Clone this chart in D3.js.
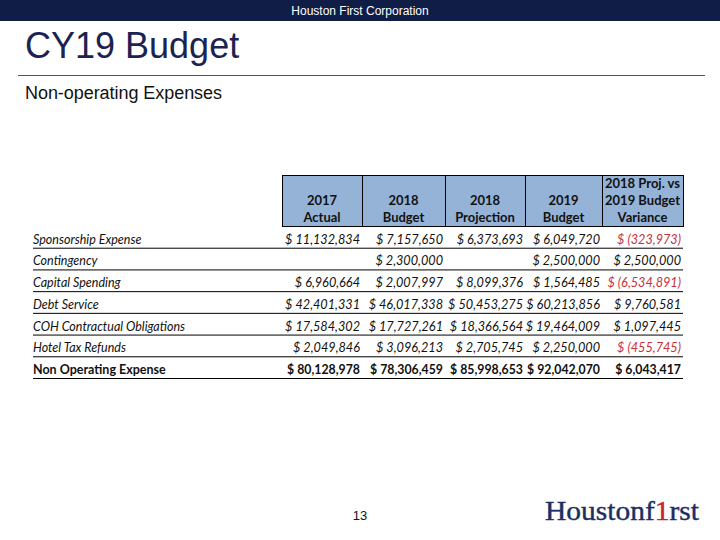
<!DOCTYPE html>
<html>
<head>
<meta charset="utf-8">
<script src="https://cdn.jsdelivr.net/npm/d3@7"></script>
<style>
  body { margin: 0; background: #fff; }
  svg { display: block; }
</style>
</head>
<body>
<div id="chart"></div>
<script>
var categories = ['Sponsorship Expense', 'Contingency', 'Capital Spending', 'Debt Service',
  'COH Contractual Obligations', 'Hotel Tax Refunds', 'Non Operating Expense'];
var columns = [['2017', 'Actual'], ['2018', 'Budget'], ['2018', 'Projection'], ['2019', 'Budget'],
  ['2018 Proj. vs', '2019 Budget', 'Variance']];
var actual2017 = [11132834, null, 6960664, 42401331, 17584302, 2049846, 80128978];
var budget2018 = [7157650, 2300000, 2007997, 46017338, 17727261, 3096213, 78306459];
var projection2018 = [6373693, null, 8099376, 50453275, 18366564, 2705745, 85998653];
var budget2019 = [6049720, 2500000, 1564485, 60213856, 19464009, 2250000, 92042070];
var variance = [-323973, 2500000, -6534891, 9760581, 1097445, -455745, 6043417];

var series = [actual2017, budget2018, projection2018, budget2019, variance];

var width = 720, height = 540;
var navy = '#101d47';

var svg = d3.select('#chart').append('svg')
  .attr('width', width)
  .attr('height', height);

// header bar
svg.append('rect')
  .attr('x', 0).attr('y', 0).attr('width', width).attr('height', 21)
  .attr('fill', navy);
svg.append('text')
  .attr('x', 360).attr('y', 15)
  .attr('text-anchor', 'middle')
  .attr('fill', '#fff')
  .style('font', '12px "Liberation Sans", Arial, sans-serif')
  .text('Houston First Corporation');

svg.append('text')
  .attr('x', 25).attr('y', 58)
  .attr('fill', '#1a2351')
  .style('font', '36px "Liberation Sans", Arial, sans-serif')
  .text('CY19 Budget');

svg.append('line')
  .attr('x1', 18).attr('x2', 705).attr('y1', 75.5).attr('y2', 75.5)
  .attr('stroke', '#555').attr('stroke-width', 1);

svg.append('text')
  .attr('x', 25).attr('y', 99)
  .attr('fill', '#111')
  .style('font', '18px "Liberation Sans", Arial, sans-serif')
  .attr('textLength', 197)
  .text('Non-operating Expenses');

// table
var colEdges = [282, 362, 445, 525, 602, 683];
function colLeft(i) { return colEdges[i]; }
function colRight(i) { return colEdges[i + 1]; }

var y = d3.scaleBand()
  .domain(categories)
  .range([226, 378]);

var headTop = 175;
var head = svg.append('g').attr('class', 'head');
head.selectAll('rect')
  .data(columns)
  .enter().append('rect')
    .attr('x', function(d, i) { return colLeft(i) + 0.5; })
    .attr('y', headTop + 0.5)
    .attr('width', function(d, i) { return colRight(i) - colLeft(i); })
    .attr('height', 226 - headTop)
    .attr('fill', '#95b3d7')
    .attr('stroke', '#000')
    .attr('stroke-width', 1);

head.selectAll('text')
  .data(columns)
  .enter().append('text')
    .attr('text-anchor', 'middle')
    .style('font', 'bold 13px Lato, "Open Sans", sans-serif')
    .attr('fill', '#111')
    .each(function(d, i) {
      var t = d3.select(this);
      var cx = (colLeft(i) + colRight(i)) / 2;
      d.forEach(function(line, j) {
        t.append('tspan')
          .attr('x', cx)
          .attr('y', 222 - (d.length - 1 - j) * 17)
          .text(line);
      });
    });

var fmt = d3.format(',');
function money(v) {
  if (v == null) return '';
  return v < 0 ? '$ (' + fmt(-v) + ')' : '$ ' + fmt(v);
}

var rows = svg.append('g').attr('class', 'rows')
  .selectAll('g')
  .data(categories)
  .enter().append('g')
    .attr('transform', function(d) { return 'translate(0,' + (y(d) + y.bandwidth()) + ')'; });

rows.append('line')
  .attr('x1', 33).attr('x2', 683)
  .attr('y1', 0.5).attr('y2', 0.5)
  .attr('stroke', '#000');

rows.append('text')
  .attr('x', 33).attr('y', -4)
  .attr('fill', '#111')
  .style('font', function(d, i) {
    return i === categories.length - 1 ? 'bold 12.5px Lato, sans-serif' : 'italic 12.5px Lato, sans-serif';
  })
  .text(function(d) { return d; });

rows.each(function(cat, r) {
  var g = d3.select(this);
  var last = r === categories.length - 1;
  series.forEach(function(s, c) {
    g.append('text')
      .attr('x', colRight(c) - 2)
      .attr('y', -4)
      .attr('text-anchor', 'end')
      .attr('fill', s[r] < 0 ? '#c8303a' : '#111')
      .style('font', last ? 'bold 12.3px Lato, sans-serif' : 'italic 12.7px Lato, sans-serif')
      .text(money(s[r]));
  });
});

// footer
svg.append('text')
  .attr('x', 360).attr('y', 520)
  .attr('text-anchor', 'middle')
  .attr('fill', '#111')
  .style('font', '13px "Liberation Sans", Arial, sans-serif')
  .text('13');

var logo = svg.append('text')
  .attr('x', 545).attr('y', 520)
  .attr('fill', '#1b2f63')
  .attr('stroke', '#1b2f63')
  .attr('stroke-width', 0.4)
  .attr('textLength', 154)
  .attr('lengthAdjust', 'spacingAndGlyphs')
  .style('font', '28px "Liberation Serif", "Times New Roman", serif');
logo.append('tspan').text('Houstonf');
logo.append('tspan').attr('fill', '#c0272d').attr('stroke', '#c0272d').text('1');
logo.append('tspan').text('rst');
</script>
</body>
</html>
